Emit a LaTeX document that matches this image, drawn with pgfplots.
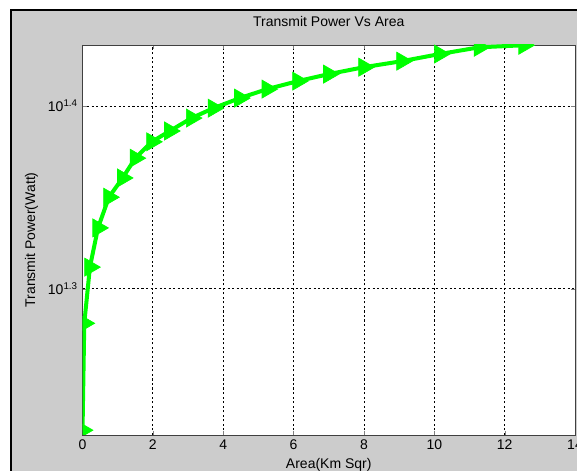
\documentclass[border=0pt]{standalone}
\usepackage{fontspec}
\setmainfont{Liberation Sans}
\usepackage{pgfplots}
\pgfplotsset{compat=1.18}

\definecolor{figgray}{RGB}{204,204,204}
\definecolor{mgreen}{RGB}{0,255,0}

% image is 577 x 471 px, 1px = 0.75pt; axis box from px 82.5 to 575 (x) and 45 to 435 (y)
\begin{document}
\begin{tikzpicture}
\useasboundingbox (-61.9pt,-27pt) rectangle (370.9pt,326.25pt);
\clip (-61.9pt,-27pt) rectangle (370.9pt,326.25pt);
\fill[white] (-61.9pt,-27pt) rectangle (370.9pt,326.25pt);
\fill[figgray] (-53.6pt,-40pt) rectangle (380pt,318.75pt);
\draw[black, line width=1.9pt] (-53.6pt,-40pt) -- (-53.6pt,318.75pt) -- (380pt,318.75pt);

\begin{axis}[
    at={(0,0)}, anchor=south west,
    scale only axis,
    width=369.4pt, height=292.5pt,
    xmin=0, xmax=14,
    ymode=log,
    ymin=16.59, ymax=27.13,
    xtick={0,2,4,6,8,10,12,14},
    ytick={19.9526,25.1189},
    yticklabels={{10\textsuperscript{1.3}},{10\textsuperscript{1.4}}},
    yminorticks=false,
    grid=major,
    major grid style={black, line width=0.65pt, dash pattern=on 1.6pt off 1.8pt},
    tick align=inside,
    major tick length=3pt,
    axis line style={black!75, line width=0.6pt},
    axis background/.style={fill=white},
    /pgf/number format/assume math mode=true,
    tick label style={font=\fontsize{10.5}{12}\selectfont},
    title={Transmit Power Vs Area},
    title style={at={(axis description cs:0.5,1.0385)}, anchor=center, font=\fontsize{10.5}{12}\selectfont},
    xlabel={Area(Km Sqr)},
    xlabel style={at={(axis description cs:0.5,-0.077)}, anchor=center, font=\fontsize{10.5}{12}\selectfont},
    ylabel={Transmit Power(Watt)},
    ylabel style={at={(axis description cs:-0.1036,0.5)}, anchor=center, font=\fontsize{10.5}{12}\selectfont},
    clip marker paths=true,
]
\addplot[mgreen, line width=3pt, mark=triangle*, mark size=7.8pt,
    mark options={solid, rotate=-90, fill=mgreen, line width=0.5pt}] coordinates {
    (0.00, 16.69)
    (0.05, 19.10)
    (0.21, 20.50)
    (0.44, 21.54)
    (0.75, 22.39)
    (1.14, 22.94)
    (1.50, 23.52)
    (1.97, 24.01)
    (2.48, 24.34)
    (3.10, 24.74)
    (3.72, 25.05)
    (4.47, 25.37)
    (5.25, 25.66)
    (6.12, 25.92)
    (7.00, 26.15)
    (8.00, 26.38)
    (9.08, 26.58)
    (10.15, 26.82)
    (11.28, 27.05)
    (12.55, 27.12)
};
\end{axis}
\end{tikzpicture}
\end{document}
